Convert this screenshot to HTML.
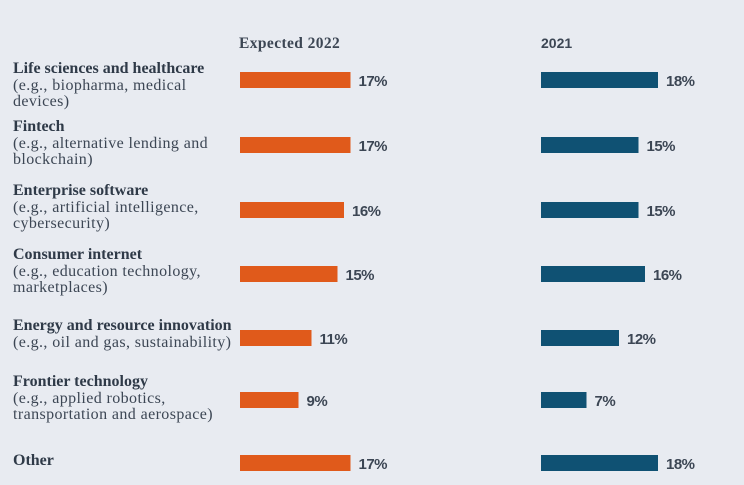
<!DOCTYPE html>
<html><head><meta charset="utf-8"><style>
body{margin:0;width:744px;height:485px;background:#e8ebf1;overflow:hidden;position:relative;font-family:"Liberation Serif",serif;color:#3c4654}
.lbl{position:absolute;left:13px;font-size:16px;letter-spacing:0.4px;line-height:16.5px;white-space:nowrap}
.lbl b{color:#2f3a48;letter-spacing:0}
.hdr{position:absolute;top:35px;font-weight:bold;font-size:15.5px;letter-spacing:0.4px}
</style></head><body>
<div class="hdr" style="left:239px">Expected 2022</div>
<div class="hdr" style="left:541px;font-family:'Liberation Sans',sans-serif;font-size:14px;letter-spacing:0">2021</div>
<div id="labels"></div>
<svg id="chart" width="744" height="485" style="position:absolute;left:0;top:0"></svg>
<script>
const categories=["Life sciences and healthcare","Fintech","Enterprise software","Consumer internet","Energy and resource innovation","Frontier technology","Other"];
const subtitles=[["(e.g., biopharma, medical","devices)"],["(e.g., alternative lending and","blockchain)"],["(e.g., artificial intelligence,","cybersecurity)"],["(e.g., education technology,","marketplaces)"],["(e.g., oil and gas, sustainability)"],["(e.g., applied robotics,","transportation and aerospace)"],[]];
const expected2022=[17,17,16,15,11,9,17];
const values2021=[18,15,15,16,12,7,18];
const rowY=[80,145,210,274,338,400,463];
const labelTop=[61,119,183,247,318,374,453];
const scale=v=>v*6.5;
const svg=document.getElementById('chart');
const NS='http://www.w3.org/2000/svg';
const lab=document.getElementById('labels');
categories.forEach((c,i)=>{
  const d=document.createElement('div');
  d.className='lbl';d.style.top=labelTop[i]+'px';
  
  
  d.innerHTML='<b>'+c+'</b>'+subtitles[i].map(s=>'<br>'+s).join('');
  lab.appendChild(d);
  [[240,expected2022[i],'#e05a1b','bar-expected-2022'],[541,values2021[i],'#0f5173','bar-2021']].forEach(([x0,v,col,nm])=>{
    const r=document.createElementNS(NS,'rect');
    r.setAttribute('x',x0);r.setAttribute('y',rowY[i]-8);
    r.setAttribute('width',scale(v));r.setAttribute('height',16);r.setAttribute('fill',col);
    
    
    svg.appendChild(r);
    const t=document.createElementNS(NS,'text');
    t.setAttribute('x',x0+scale(v)+8);t.setAttribute('y',rowY[i]+6);
    t.setAttribute('font-family','Liberation Sans, sans-serif');t.setAttribute('font-weight','bold');
    t.setAttribute('font-size','15');t.setAttribute('fill','#3c4654');
    t.setAttribute('letter-spacing','-0.5');
    t.textContent=v+'%';
    
    
    svg.appendChild(t);
  });
});
</script>
</body></html>
